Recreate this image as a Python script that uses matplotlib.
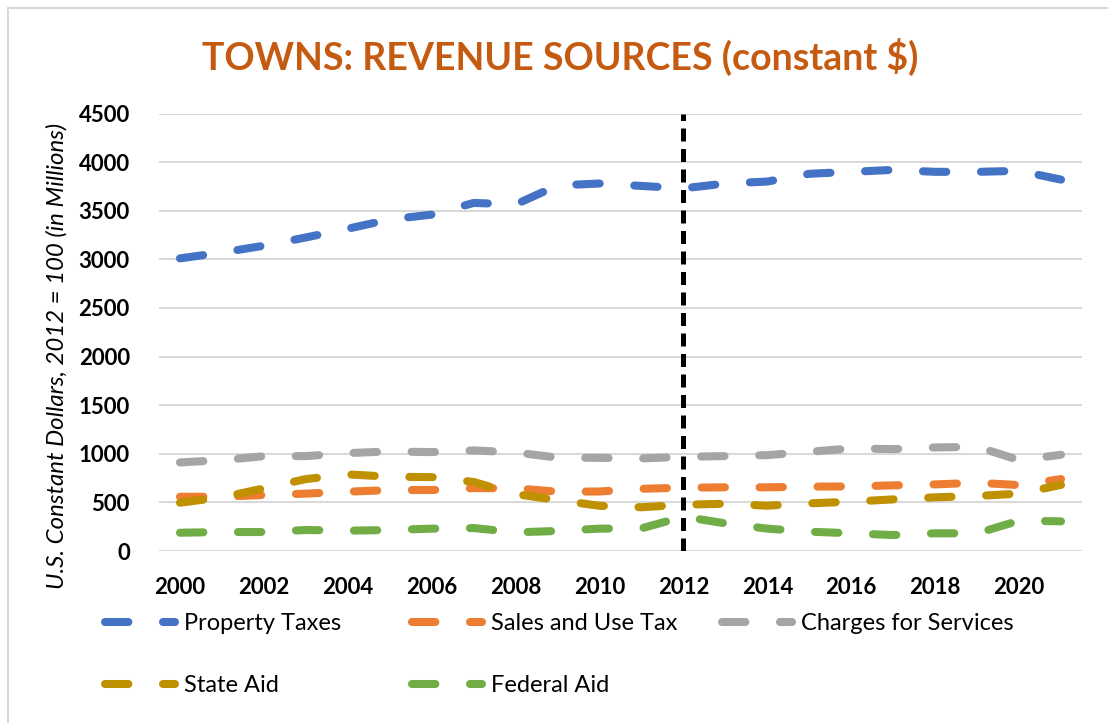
import matplotlib
matplotlib.use("Agg")
import matplotlib.pyplot as plt
from matplotlib.patches import Rectangle

# data
years = list(range(2000, 2022))
property_taxes = [3010, 3070, 3140, 3225, 3315, 3410, 3460, 3580, 3565, 3760, 3780,
                  3755, 3730, 3780, 3800, 3880, 3900, 3920, 3900, 3900, 3910, 3820]
sales_use_tax = [558, 558, 576, 590, 610, 627, 627, 647, 645, 610, 612,
                 640, 651, 655, 655, 662, 664, 675, 685, 702, 678, 740]
charges_services = [911, 935, 975, 976, 1007, 1024, 1017, 1035, 1014, 960, 958,
                    952, 969, 976, 986, 1021, 1055, 1048, 1065, 1072, 935, 990]
state_aid = [497, 552, 644, 740, 788, 764, 760, 710, 585, 524, 465,
             450, 476, 486, 466, 490, 507, 531, 552, 566, 590, 680]
federal_aid = [188, 195, 195, 216, 209, 216, 230, 236, 192, 206, 230,
               233, 353, 284, 230, 199, 182, 164, 182, 182, 312, 305]

series = [
    ("Property Taxes", property_taxes, "#4472C4"),
    ("Sales and Use Tax", sales_use_tax, "#ED7D31"),
    ("Charges for Services", charges_services, "#A5A5A5"),
    ("State Aid", state_aid, "#BF9000"),
    ("Federal Aid", federal_aid, "#70AD47"),
]
xticks = list(range(2000, 2021, 2))
split_year = 2012

plt.rcParams['font.family'] = ['Lato', 'DejaVu Sans']

fig = plt.figure(figsize=(11.08, 7.23), dpi=100)
fig.patch.set_facecolor("white")

# chart border (only left and top visible in the reference)
fig.add_artist(Rectangle((8 / 1108, -0.05), 1.1, 1 - 8 / 723 + 0.05,
                         transform=fig.transFigure, fill=False,
                         edgecolor="#D9D9D9", linewidth=1.5))

ax = fig.add_axes([159 / 1108, 1 - 551 / 723, (1082 - 159) / 1108, (551 - 113.5) / 723])

lines = {}
for name, vals, col in series:
    ln, = ax.plot(years, vals, color=col, linewidth=5.8, linestyle=(0, (2.9, 4.3)),
                  dash_capstyle="round", solid_capstyle="round", label=name)
    lines[name] = ln

ax.vlines(split_year, 0, 4500, color="black", linewidth=3.6,
          linestyles=[(0, (2.6, 1.5))], zorder=5)

ax.set_xlim(1999.5, 2021.5)
ax.set_ylim(0, 4500)
ax.set_yticks(range(0, 4501, 500))
ax.set_xticks(xticks)
ax.grid(axis="y", color="#D9D9D9", linewidth=1.5)
ax.set_axisbelow(True)
for s in ax.spines.values():
    s.set_visible(False)
ax.tick_params(length=0, labelsize=16, pad=21)
ax.tick_params(axis="x", pad=19)
for lbl in ax.get_xticklabels() + ax.get_yticklabels():
    lbl.set_fontweight("bold")

fig.text(560 / 1108, 1 - 57 / 723, "TOWNS: REVENUE SOURCES (constant $)",
         color="#C55A11", fontsize=27, fontweight="bold", ha="center", va="center")
fig.text(57 / 1108, 1 - 356 / 723, "U.S. Constant Dollars, 2012 = 100 (in Millions)",
         rotation=90, fontsize=17.3, fontstyle="italic", ha="center", va="center")

# legend: three columns placed like the Excel legend
columns = [["Property Taxes", "State Aid"],
           ["Sales and Use Tax", "Federal Aid"],
           ["Charges for Services"]]
col_x = [105, 412, 722]
for names, x in zip(columns, col_x):
    fig.legend([lines[n] for n in names], names, loc="upper left",
               bbox_to_anchor=(x / 1108, 1 - 613 / 723), frameon=False,
               fontsize=17, handlelength=2.95, handletextpad=0.4,
               borderpad=0, borderaxespad=0, labelspacing=1.75)

fig.savefig("out.png", dpi=100)
